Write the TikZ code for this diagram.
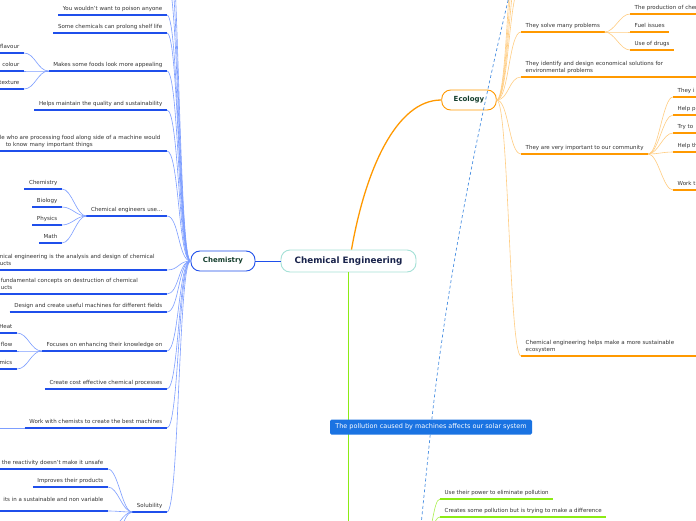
\documentclass[tikz,border=0pt]{standalone}
\usepackage{fontspec}
\setmainfont{DejaVu Sans}
\usetikzlibrary{calc}
\definecolor{chemblue}{RGB}{31,79,235}
\definecolor{chemlight}{RGB}{125,158,255}
\definecolor{ecoorange}{RGB}{255,153,0}
\definecolor{ecolight}{RGB}{255,205,130}
\definecolor{limegreen}{RGB}{140,235,20}
\definecolor{pollblue}{RGB}{26,115,226}
\definecolor{relblue}{RGB}{74,144,226}
\definecolor{txtgray}{RGB}{51,51,51}
\definecolor{topicgreen}{RGB}{20,62,45}
\definecolor{rootnavy}{RGB}{25,35,75}
\definecolor{rootline}{RGB}{165,225,215}

\newcommand\leaffont{\fontsize{5.5}{7}\selectfont}
\newcommand\topicfont{\fontsize{7}{8}\selectfont\bfseries}
\newcommand\rootfont{\fontsize{8.8}{10}\selectfont\bfseries}
\newcommand\pollfont{\fontsize{6.5}{8}\selectfont}

\tikzset{
  root/.style={draw=rootline, line width=0.9pt, rounded corners=9pt, fill=white,
    text=rootnavy, font=\rootfont, minimum width=135pt, minimum height=22pt},
  topic/.style={draw=#1, line width=0.9pt, rounded corners=9pt, fill=white,
    text=topicgreen, font=\topicfont, minimum height=20pt, inner xsep=12pt},
  pollbox/.style={fill=pollblue, rounded corners=1.5pt, text=white, font=\pollfont,
    minimum width=202pt, minimum height=15pt, inner sep=0pt},
  leaf/.style={font=\leaffont, text=txtgray, inner xsep=4.5pt, inner ysep=3.3pt,
    execute at end node=\vphantom{g},
    append after command={(\tikzlastnode.south west) edge[#1] (\tikzlastnode.south east)}},
  chemleaf/.style={leaf=chemuline, anchor=south east},
  chemblock/.style={leaf=chemuline, anchor=south east, align=left, text width=#1},
  ecoleaf/.style={leaf=ecouline, anchor=south west},
  ecoblock/.style={leaf=ecouline, anchor=south west, align=left, text width=#1},
  greenleaf/.style={leaf=greenuline, anchor=south west},
  chemuline/.style={draw=chemblue, line width=1.3pt},
  chemlink/.style={draw=chemlight, line width=0.6pt},
  ecouline/.style={draw=ecoorange, line width=1.3pt},
  ecolink/.style={draw=ecolight, line width=0.6pt},
  greenuline/.style={draw=limegreen, line width=1.3pt},
  greenlink/.style={draw=limegreen!75, line width=0.6pt},
  relation/.style={draw=relblue, line width=0.7pt, dash pattern=on 3pt off 2.5pt},
  tol/.style={to path={.. controls +(-#1,0) and +(#1,0) .. (\tikztotarget)}},
  tol/.default=12,
  tor/.style={to path={.. controls +(#1,0) and +(-#1,0) .. (\tikztotarget)}},
  tor/.default=12
}

\begin{document}
\begin{tikzpicture}[x=1pt,y=-1pt]
  \useasboundingbox (0,0) rectangle (696,520);
  \clip (0,0) rectangle (696,520);
  \fill[white] (0,0) rectangle (696,520);

  % main topics
  \node[root] (root) at (348.5,261) {Chemical Engineering};
  \node[topic=chemblue] (chem) at (223,261) {Chemistry};
  \node[topic=ecoorange] (eco) at (469,100) {Ecology};

  % chemistry leaves
  \node[chemleaf] (poison) at (167,15) {You wouldn't want to poison anyone};
  \node[chemleaf] (shelf) at (167,33) {Some chemicals can prolong shelf life};
  \node[chemleaf] (appeal) at (167,71) {Makes some foods look more appealing};
  \node[chemleaf] (quality) at (167,110) {Helps maintain the quality and sustainability};
  \node[chemblock=162.5pt] (people) at (167,151)
    {le who are processing food along side of a machine would\\\hspace*{6pt}to know many important things};
  \node[chemleaf] (use) at (167,216) {Chemical engineers use...};
  \node[chemblock=162.5pt] (analysis) at (167,270)
    {nical engineering is the analysis and design of chemical\\ucts};
  \node[chemblock=161.5pt] (destruct) at (167,294)
    {fundamental concepts on destruction of chemical\\ucts};
  \node[chemleaf] (design) at (167,312) {Design and create useful machines for different fields};
  \node[chemleaf] (focus) at (167,351) {Focuses on enhancing their knowledge on};
  \node[chemleaf] (cost) at (167,389) {Create cost effective chemical processes};
  \node[chemleaf] (chemists) at (167,428) {Work with chemists to create the best machines};
  \node[chemleaf] (solub) at (167,512) {Solubility};

  \node[chemleaf] (flavour) at (24,53) {flavour};
  \node[chemleaf] (colour) at (24,71) {colour};
  \node[chemleaf] (texture) at (24,89) {texture};
  \node[chemleaf] (subchem) at (62,189) {Chemistry};
  \node[chemleaf] (biology) at (62,207) {Biology};
  \node[chemleaf] (physics) at (62,225) {Physics};
  \node[chemleaf] (math) at (62,243) {Math};
  \node[chemleaf] (heat) at (17,333) {Heat};
  \node[chemleaf] (flow) at (17,351) {flow};
  \node[chemleaf] (mics) at (17,369) {mics};
  \node[chemleaf] (react) at (108,469) {the reactivity doesn't make it unsafe};
  \node[chemleaf] (improve) at (108,487) {Improves their products};
  \node[chemleaf, text depth=6.5pt] (variable) at (108,511) {its in a sustainable and non variable};

  \coordinate (ctopa) at (167,-20);
  \coordinate (ctopb) at (167,-50);
  \coordinate (ctopc) at (167,-90);
  \coordinate (wchild) at (-20,428);
  \coordinate (solx) at (108,530);
  \coordinate (soly) at (108,550);

  % ecology leaves
  \node[ecoleaf] (solve) at (521,32) {They solve many problems};
  \node[ecoblock=180pt] (identify) at (521,77)
    {They identify and design economical solutions for\\environmental problems};
  \node[ecoleaf] (community) at (521,154) {They are very important to our community};
  \node[ecoblock=180pt] (sustain) at (521,356)
    {Chemical engineering helps make a more sustainable\\ecosystem};

  \node[ecoblock=70pt] (prod) at (630,14) {The production of chem};
  \node[ecoleaf] (fuel) at (630,32) {Fuel issues};
  \node[ecoleaf] (drugs) at (630,50) {Use of drugs};
  \node[ecoblock=40pt] (ca) at (673,97) {They i};
  \node[ecoblock=40pt] (cb) at (673,115) {Help p};
  \node[ecoblock=40pt] (cc) at (673,133) {Try to};
  \node[ecoblock=40pt] (cd) at (673,152) {Help th};
  \node[ecoblock=40pt] (ce) at (673,190) {Work t};

  \coordinate (etopa) at (521,-15);
  \coordinate (etopb) at (521,-40);
  \coordinate (etopc) at (521,-70);
  \coordinate (etopd) at (521,-110);

  % pollution leaves
  \node[greenleaf] (power) at (440,499) {Use their power to eliminate pollution};
  \node[greenleaf] (difference) at (440,517) {Creates some pollution but is trying to make a difference};
  \coordinate (gpar) at (425,540);
  \coordinate (gtrunk) at (348.5,540);

  % connectors
  \draw[chemblue, line width=0.8pt] (chem) -- (root);
  \draw[ecouline] ([xshift=3pt]root.north) .. controls +(14,-80) and +(-45,0) .. (eco.west);
  \draw[greenuline] (root.south) -- (gtrunk);

  \foreach \n in {poison,shelf,appeal,quality,people,use,analysis,destruct,design,focus,cost,chemists,solub}
    \draw[chemlink] (chem.west) to[tol] (\n.south east);
  \foreach \n in {ctopa,ctopb,ctopc}
    \draw[chemlink] (chem.west) to[tol] (\n);
  \foreach \n in {flavour,colour,texture}
    \draw[chemlink] (appeal.south west) to[tol=11] (\n.south east);
  \foreach \n in {subchem,biology,physics,math}
    \draw[chemlink] (use.south west) to[tol=10] (\n.south east);
  \foreach \n in {heat,flow,mics}
    \draw[chemlink] (focus.south west) to[tol=11] (\n.south east);
  \foreach \n in {react,improve,variable}
    \draw[chemlink] (solub.south west) to[tol=10] (\n.south east);
  \foreach \n in {solx,soly}
    \draw[chemlink] (solub.south west) to[tol=10] (\n);
  \draw[chemlink] (chemists.south west) -- (wchild);

  \foreach \n in {solve,identify,community,sustain}
    \draw[ecolink] (eco.east) to[tor] (\n.south west);
  \foreach \n in {etopa,etopb,etopc,etopd}
    \draw[ecolink] (eco.east) to[tor] (\n);
  \foreach \n in {prod,fuel,drugs}
    \draw[ecolink] (solve.south east) to[tor=10] (\n.south west);
  \foreach \n in {ca,cb,cc,cd,ce}
    \draw[ecolink] (community.south east) to[tor=10] (\n.south west);

  \foreach \n in {power,difference}
    \draw[greenlink] (gpar) to[tor=7] (\n.south west);

  % relation lines and the floating topic
  \node[pollbox] (poll) at (431,427) {The pollution caused by machines affects our solar system};
  \coordinate (reltop) at (511,-12);
  \coordinate (relbot) at (419,545);
  \draw[relation] (poll) .. controls (445,300) and (470,160) .. (reltop);
  \draw[relation] (poll) -- (relbot);
\end{tikzpicture}
\end{document}
